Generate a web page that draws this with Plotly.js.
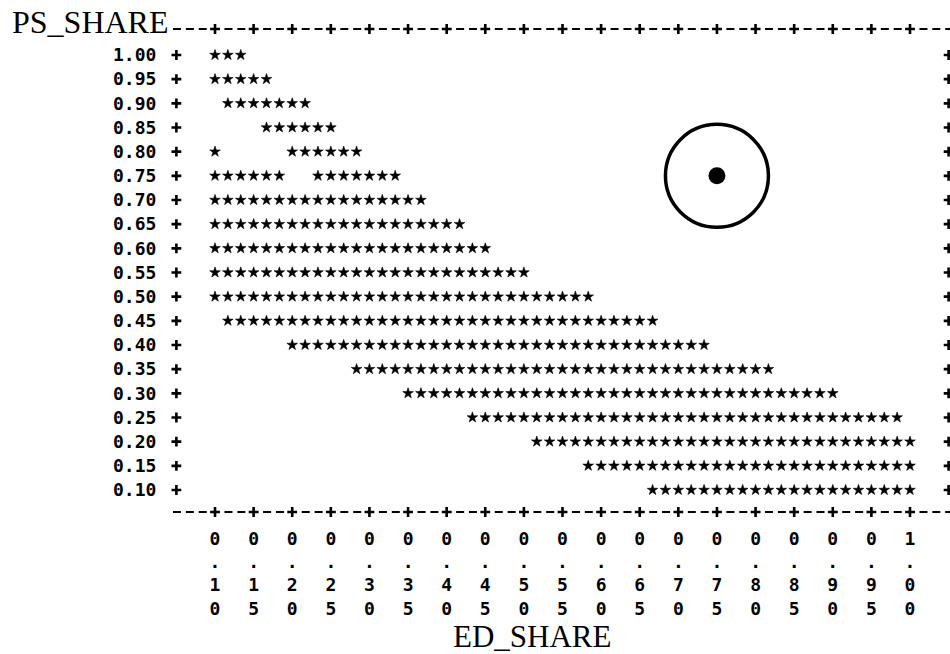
<!DOCTYPE html>
<html>
<head>
<meta charset="utf-8">
<script src="https://cdn.plot.ly/plotly-3.0.1.min.js"></script>
<style>html,body{margin:0;padding:0;background:#fff;}</style>
</head>
<body>
<div id="chart" style="width:950px;height:654px;"></div>
<script>
// ---------------- DATA ----------------
// PS_SHARE value of each printed row
const psShare = [1.00, 0.95, 0.90, 0.85, 0.80, 0.75, 0.70, 0.65, 0.60, 0.55,
                 0.50, 0.45, 0.40, 0.35, 0.30, 0.25, 0.20, 0.15, 0.10];

// Printed row contents: one character per printer column ('*' = point, '.' = blank).
// Column 0 is ED_SHARE = 0.10; three columns per 0.05 of ED_SHARE.
const S10 = "**********", D10 = "..........";
const rowPatterns = [
  "***",                                   // 1.00
  "*****",                                 // 0.95
  ".*******",                              // 0.90
  "....******",                            // 0.85
  "*.....******",                          // 0.80
  "******..*******",                       // 0.75
  S10 + "*******",                         // 0.70
  S10 + S10,                               // 0.65
  S10 + S10 + "**",                        // 0.60
  S10 + S10 + "*****",                     // 0.55
  S10 + S10 + S10,                         // 0.50
  "." + S10 + S10 + S10 + "****",          // 0.45
  "......" + S10 + S10 + S10 + "***",      // 0.40
  D10 + "." + S10 + S10 + S10 + "***",     // 0.35
  D10 + "....." + S10 + S10 + S10 + "****",// 0.30
  D10 + D10 + S10 + S10 + S10 + "****",    // 0.25
  D10 + D10 + "....." + S10 + S10 + S10,   // 0.20
  D10 + D10 + "........." + S10 + S10 + "******", // 0.15
  D10 + D10 + D10 + "...." + S10 + S10 + "*"       // 0.10
];
const ED_FIRST_COLUMN = 0.10;      // ED_SHARE of printer column 0
const COLUMNS_PER_TICK = 3;        // printer columns per 0.05 tick

// x-axis tick values / labels
const edTickLabels = ["0.10","0.15","0.20","0.25","0.30","0.35","0.40","0.45","0.50","0.55",
                      "0.60","0.65","0.70","0.75","0.80","0.85","0.90","0.95","1.00"];
const edTicks = edTickLabels.map(Number);
// y-axis tick labels
const psTickLabels = psShare.map(v => v.toFixed(2));

// The circled reference point
const markEd = [0.75];
const markPs = [0.75];

// Border "+" columns (left of first column and right edge of the page frame)
const leftFrameColumn = -3;
const rightFrameColumn = 57;

// ---------------- BUILD ----------------
const colStep = 0.05 / COLUMNS_PER_TICK;
const starX = [], starY = [];
rowPatterns.forEach((pat, r) => {
  for (let c = 0; c < pat.length; c++) {
    if (pat[c] === "*") { starX.push(ED_FIRST_COLUMN + c * colStep); starY.push(psShare[r]); }
  }
});

// pixel calibration of the page
const W = 950, H = 654;
const L = 173, R = 0, T = 29, B = 142;
const pxX010 = 215, pxX100 = 910;     // pixel of ED 0.10 and 1.00
const pxY100 = 55,  pxY010 = 490;     // pixel of PS 1.00 and 0.10
const kx = (pxX100 - pxX010) / 0.9;
const ky = (pxY010 - pxY100) / 0.9;
const xRange = [0.10 - (pxX010 - L) / kx, 0.10 + (W - R - pxX010) / kx];
const yRange = [0.10 - (H - B - pxY010) / ky, 1.00 + (pxY100 - T) / ky];
const plotW = W - L - R, plotH = H - T - B;

const monoFont = {family: "DejaVu Sans Mono", size: 18, color: "#000", weight: "bold"};
const plusMarker = {symbol: "cross-thin", size: 7, line: {width: 2.6, color: "#000"}, color: "#000"};

const traces = [
  { // the points
    type: "scatter", mode: "markers", x: starX, y: starY, cliponaxis: false,
    marker: {symbol: "star", size: 8, color: "#000", line: {width: 0.6, color: "#000"}}
  },
  { // left "+" of each row
    type: "scatter", mode: "markers", cliponaxis: false,
    x: psShare.map(() => ED_FIRST_COLUMN + leftFrameColumn * colStep), y: psShare,
    marker: plusMarker
  },
  { // right "+" of each row
    type: "scatter", mode: "markers", cliponaxis: false,
    x: psShare.map(() => ED_FIRST_COLUMN + rightFrameColumn * colStep), y: psShare,
    marker: plusMarker
  },
  { // "+" on the top frame line
    type: "scatter", mode: "markers", cliponaxis: false,
    x: edTicks, y: edTicks.map(() => yRange[1]), marker: plusMarker
  },
  { // "+" on the bottom frame line
    type: "scatter", mode: "markers", cliponaxis: false,
    x: edTicks, y: edTicks.map(() => yRange[0]), marker: plusMarker
  },
  { // circle around the reference point
    type: "scatter", mode: "markers", x: markEd, y: markPs, cliponaxis: false,
    marker: {symbol: "circle-open", size: 103, color: "#000", line: {width: 3.5, color: "#000"}}
  },
  { // reference point
    type: "scatter", mode: "markers", x: markEd, y: markPs, cliponaxis: false,
    marker: {symbol: "circle", size: 17, color: "#000", line: {width: 0}}
  }
];

const dashStyle = "8px,4.87px";
const layout = {
  width: W, height: H,
  margin: {l: L, r: R, t: T, b: B, pad: 0},
  paper_bgcolor: "#fff", plot_bgcolor: "#fff",
  showlegend: false, hovermode: false,
  xaxis: {
    range: xRange, showgrid: false, zeroline: false, showline: false,
    tickmode: "array", tickvals: edTicks,
    ticktext: edTickLabels.map(s => s.split("").join("<br>")),
    ticks: "outside", ticklen: 10, tickcolor: "rgba(0,0,0,0)",
    tickfont: monoFont, tickangle: 0
  },
  yaxis: {
    range: yRange, showgrid: false, zeroline: false, showline: false,
    tickmode: "array", tickvals: psShare, ticktext: psTickLabels,
    ticks: "outside", ticklen: 12, tickcolor: "rgba(0,0,0,0)",
    tickfont: monoFont
  },
  shapes: [
    {type: "line", xref: "paper", yref: "paper", x0: 0, x1: 1, y0: 1, y1: 1,
     line: {color: "#000", width: 2, dash: dashStyle}},
    {type: "line", xref: "paper", yref: "paper", x0: 0, x1: 1, y0: 0, y1: 0,
     line: {color: "#000", width: 2, dash: dashStyle}}
  ],
  annotations: [
    {text: "PS_SHARE", showarrow: false, xref: "paper", yref: "paper",
     x: (10 - L) / plotW, xanchor: "left", y: (H - B - 22) / plotH, yanchor: "middle",
     font: {family: "Liberation Serif", size: 32, color: "#000"}},
    {text: "ED_SHARE", showarrow: false, xref: "paper", yref: "paper",
     x: (532 - L) / plotW, xanchor: "center", y: (H - B - 636) / plotH, yanchor: "middle",
     font: {family: "Liberation Serif", size: 31, color: "#000"}}
  ]
};

Plotly.newPlot("chart", traces, layout, {displayModeBar: false, staticPlot: true});
</script>
</body>
</html>
